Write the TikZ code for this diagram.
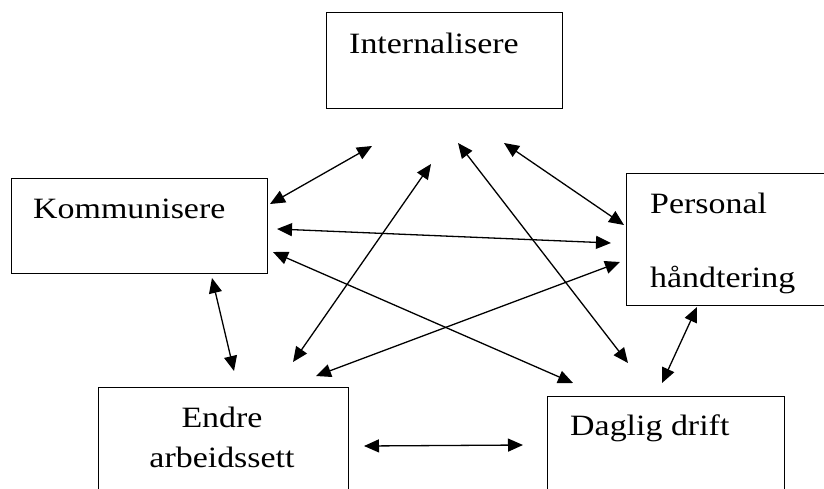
\documentclass[tikz,border=0pt]{standalone}
\usepackage{fontspec}
\setmainfont{Liberation Serif}[FakeStretch=1.15]
\usetikzlibrary{arrows.meta}
\tikzset{
  box/.style={draw, line width=1.3pt, inner sep=0pt, anchor=north west},
  lbl/.style={inner sep=0pt, anchor=base west, font=\fontsize{29.5}{40}\selectfont},
  link/.style={line width=1.3pt, {Triangle[length=15pt,width=13pt]}-{Triangle[length=15pt,width=13pt]}}
}
\begin{document}
\begin{tikzpicture}[x=1pt,y=-1pt]
\clip (0,0) rectangle (824,488);
\fill[white] (0,0) rectangle (824,488);
% boxes
\node[box, minimum width=236pt, minimum height=96pt] (int) at (326,12) {};
\node[box, minimum width=256pt, minimum height=95pt] (kom) at (11,178) {};
\node[box, minimum width=210pt, minimum height=132pt] (per) at (626,173) {};
\node[box, minimum width=250pt, minimum height=120pt] (end) at (98,387) {};
\node[box, minimum width=237pt, minimum height=110pt] (dag) at (547,396) {};
% labels
\node[lbl] (intT) at (349,53) {Internalisere};
\node[lbl] (komT) at (33,218) {Kommunisere};
\node[lbl] (perT1) at (650,213) {Personal};
\node[lbl] (perT2) at (650,287) {håndtering};
\node[lbl, anchor=base] (endT1) at (222,427) {Endre};
\node[lbl, anchor=base] (endT2) at (222,467) {arbeidssett};
\node[lbl] (dagT) at (570,435) {Daglig drift};
% connector end points
\coordinate (a1) at (270,204); \coordinate (b1) at (372,146);
\coordinate (a2) at (277,229); \coordinate (b2) at (611,243);
\coordinate (a3) at (273,252); \coordinate (b3) at (573,383);
\coordinate (a4) at (212,278); \coordinate (b4) at (234,371);
\coordinate (a5) at (293,362); \coordinate (b5) at (431,164);
\coordinate (a6) at (316,376); \coordinate (b6) at (620,262);
\coordinate (a7) at (458,143); \coordinate (b7) at (628,363);
\coordinate (a8) at (504,143); \coordinate (b8) at (624,225);
\coordinate (a9) at (662,383); \coordinate (b9) at (697,307);
\coordinate (a10) at (364,446); \coordinate (b10) at (523,445);
% connectors
\draw[link] (a1) -- (b1);
\draw[link] (a2) -- (b2);
\draw[link] (a3) -- (b3);
\draw[link] (a4) -- (b4);
\draw[link] (a5) -- (b5);
\draw[link] (a6) -- (b6);
\draw[link] (a7) -- (b7);
\draw[link] (a8) -- (b8);
\draw[link] (a9) -- (b9);
\draw[link] (a10) -- (b10);
\end{tikzpicture}
\end{document}
